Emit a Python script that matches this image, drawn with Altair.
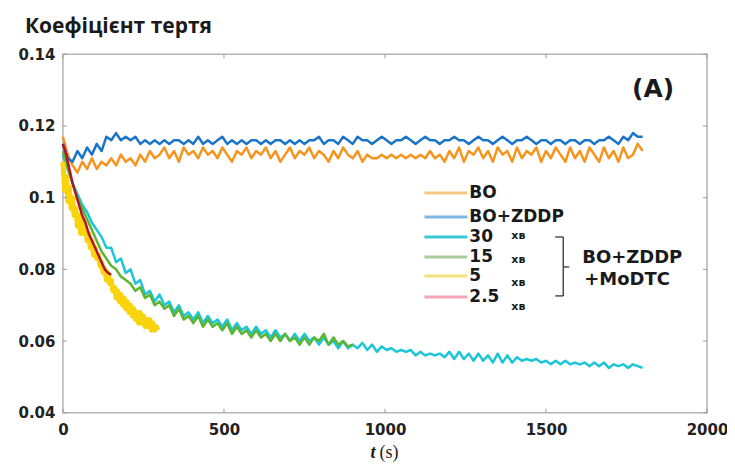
import altair as alt
import pandas as pd

# ---------------- data ----------------
series_names = ["BO", "BO+ZDDP", "30", "15", "5", "2.5"]
line_colors = ["#f7941d", "#1a75c8", "#1cc6d8", "#5cb531", "#f9d30b", "#b3122d"]
legend_colors = ["#f2c983", "#7cb8e6", "#39c9d6", "#a8cc98", "#f3e27a", "#f4a6b8"]
line_widths = [2.5, 2.5, 2.5, 2.5, 5, 2.5]

x_ticks = [0, 500, 1000, 1500, 2000]
y_ticks = [0.04, 0.06, 0.08, 0.10, 0.12, 0.14]

t_bo = list(range(0, 1801, 15))
cof_bo = [0.117, 0.112, 0.109, 0.107, 0.110, 0.108, 0.111, 0.108, 0.110, 0.109,
          0.111, 0.109, 0.112, 0.110, 0.111, 0.109, 0.112, 0.110, 0.113, 0.111,
          0.112, 0.114, 0.111, 0.113, 0.110, 0.114, 0.112, 0.113, 0.111, 0.114,
          0.112, 0.113, 0.111, 0.114, 0.112, 0.110, 0.113, 0.112, 0.114, 0.111,
          0.113, 0.112, 0.114, 0.111, 0.113, 0.110, 0.112, 0.114, 0.111, 0.113,
          0.112, 0.114, 0.111, 0.113, 0.112, 0.110, 0.113, 0.111, 0.114, 0.112,
          0.111, 0.113, 0.110, 0.112, 0.111, 0.111, 0.112, 0.111, 0.112, 0.111,
          0.112, 0.111, 0.112, 0.111, 0.112, 0.111, 0.113, 0.111, 0.112, 0.110,
          0.113, 0.111, 0.114, 0.110, 0.113, 0.112, 0.114, 0.111, 0.113, 0.110,
          0.114, 0.112, 0.113, 0.110, 0.114, 0.111, 0.113, 0.112, 0.114, 0.110,
          0.113, 0.111, 0.114, 0.112, 0.110, 0.114, 0.111, 0.113, 0.110, 0.114,
          0.112, 0.110, 0.114, 0.111, 0.113, 0.110, 0.114, 0.111, 0.112, 0.115,
          0.113]

t_zddp = list(range(0, 1801, 15))
cof_zddp = [0.115, 0.111, 0.110, 0.113, 0.111, 0.114, 0.112, 0.115, 0.113, 0.117,
            0.116, 0.118, 0.116, 0.117, 0.116, 0.117, 0.115, 0.116, 0.115, 0.116,
            0.115, 0.116, 0.115, 0.116, 0.116, 0.115, 0.116, 0.115, 0.117, 0.115,
            0.116, 0.115, 0.116, 0.117, 0.115, 0.116, 0.115, 0.116, 0.115, 0.116,
            0.116, 0.115, 0.116, 0.115, 0.116, 0.116, 0.115, 0.116, 0.115, 0.116,
            0.115, 0.116, 0.116, 0.117, 0.115, 0.116, 0.116, 0.115, 0.117, 0.116,
            0.115, 0.117, 0.116, 0.116, 0.115, 0.116, 0.117, 0.116, 0.115, 0.116,
            0.116, 0.117, 0.116, 0.115, 0.116, 0.117, 0.116, 0.116, 0.115, 0.116,
            0.116, 0.117, 0.116, 0.116, 0.115, 0.116, 0.117, 0.116, 0.116, 0.115,
            0.116, 0.117, 0.116, 0.115, 0.116, 0.116, 0.117, 0.116, 0.115, 0.116,
            0.116, 0.115, 0.116, 0.116, 0.115, 0.116, 0.116, 0.115, 0.116, 0.116,
            0.115, 0.116, 0.116, 0.117, 0.116, 0.115, 0.117, 0.116, 0.118, 0.117,
            0.117]

t_30 = list(range(0, 1801, 15))
cof_30 = [0.112, 0.108, 0.104, 0.101, 0.098, 0.096, 0.093, 0.091, 0.089, 0.086,
          0.086, 0.082, 0.083, 0.079, 0.080, 0.076, 0.077, 0.073, 0.074, 0.071,
          0.073, 0.070, 0.071, 0.068, 0.070, 0.067, 0.068, 0.066, 0.068, 0.065,
          0.067, 0.065, 0.066, 0.064, 0.066, 0.063, 0.065, 0.063, 0.064, 0.062,
          0.064, 0.062, 0.063, 0.061, 0.063, 0.061, 0.062, 0.060, 0.062, 0.060,
          0.062, 0.060, 0.061, 0.059, 0.061, 0.059, 0.060, 0.058, 0.060, 0.058,
          0.059, 0.058, 0.0595, 0.0575, 0.059, 0.057, 0.0585, 0.0575, 0.058, 0.057,
          0.0575, 0.057, 0.0575, 0.056, 0.057, 0.056, 0.0565, 0.056, 0.0565, 0.0555,
          0.057, 0.055, 0.057, 0.055, 0.0565, 0.0545, 0.0565, 0.0545, 0.056, 0.054,
          0.0565, 0.054, 0.056, 0.054, 0.0555, 0.0545, 0.055, 0.0545, 0.055, 0.054,
          0.0545, 0.0535, 0.0545, 0.0535, 0.0545, 0.0535, 0.054, 0.0535, 0.054, 0.053,
          0.054, 0.053, 0.054, 0.0525, 0.0535, 0.053, 0.0535, 0.0525, 0.0535, 0.053,
          0.0525]

t_15 = list(range(0, 901, 15))
cof_15 = [0.113, 0.108, 0.104, 0.100, 0.097, 0.094, 0.091, 0.088, 0.085, 0.083,
          0.081, 0.080, 0.078, 0.077, 0.076, 0.074, 0.075, 0.072, 0.073, 0.070,
          0.071, 0.069, 0.070, 0.067, 0.069, 0.066, 0.067, 0.065, 0.067, 0.064,
          0.066, 0.064, 0.065, 0.063, 0.065, 0.062, 0.064, 0.062, 0.063, 0.061,
          0.063, 0.061, 0.062, 0.060, 0.062, 0.060, 0.062, 0.060, 0.061, 0.059,
          0.061, 0.059, 0.061, 0.060, 0.062, 0.059, 0.061, 0.059, 0.060, 0.0585,
          0.059]

t_5 = list(range(0, 296, 5))
cof_5 = [0.110, 0.102, 0.106, 0.099, 0.103, 0.097, 0.100, 0.095, 0.097, 0.092,
         0.095, 0.090, 0.094, 0.090, 0.092, 0.088, 0.090, 0.086, 0.088, 0.084,
         0.086, 0.083, 0.084, 0.081, 0.082, 0.079, 0.080, 0.077, 0.079, 0.076,
         0.077, 0.074, 0.075, 0.072, 0.074, 0.071, 0.073, 0.070, 0.072, 0.069,
         0.071, 0.068, 0.070, 0.067, 0.069, 0.066, 0.068, 0.065, 0.068, 0.065,
         0.067, 0.064, 0.066, 0.064, 0.066, 0.063, 0.065, 0.063, 0.064, 0.063]

t_25 = list(range(0, 151, 10))
cof_25 = [0.115, 0.112, 0.108, 0.104, 0.101, 0.098, 0.095, 0.093, 0.090, 0.088,
          0.086, 0.084, 0.082, 0.080, 0.079, 0.0785]

# ---------------- table ----------------
all_t = [t_bo, t_zddp, t_30, t_15, t_5, t_25]
all_c = [cof_bo, cof_zddp, cof_30, cof_15, cof_5, cof_25]
rows = []
for name, ts, cs in zip(series_names, all_t, all_c):
    for t, c in zip(ts, cs):
        rows.append({"t": t, "cof": c, "series": name})
df = pd.DataFrame(rows)

W, H = 645, 359
LABEL_FONT = "DejaVu Sans"

X = alt.X("t:Q", scale=alt.Scale(domain=[0, 2000], nice=False, zero=False),
          axis=alt.Axis(values=x_ticks, format="d", title=None, ticks=False, domain=False,
                        grid=False, labelFont=LABEL_FONT, labelFontSize=15,
                        labelFontWeight="bold", labelColor="#222222", labelPadding=10,
                        labelFlush=False))
Y = alt.Y("cof:Q", scale=alt.Scale(domain=[0.04, 0.14], nice=False, zero=False),
          axis=alt.Axis(values=y_ticks, format="~g", title=None, ticks=False, domain=False,
                        grid=False, labelFont=LABEL_FONT, labelFontSize=15,
                        labelFontWeight="bold", labelColor="#222222", labelPadding=8))

layers = []
for name, col, sw in zip(series_names, line_colors, line_widths):
    layers.append(
        alt.Chart(df).transform_filter(alt.datum.series == name)
        .mark_line(color=col, strokeWidth=sw, strokeJoin="round")
        .encode(x=X, y=Y, order="t:Q")
    )

# inward ticks on all four sides
xt = pd.DataFrame({"t": x_ticks})
yt = pd.DataFrame({"cof": y_ticks})
tick_color = "#9a9a9a"
layers.append(alt.Chart(xt).mark_rule(color=tick_color, strokeWidth=1)
              .encode(x=X, y=alt.value(H), y2=alt.value(H - 4)))
layers.append(alt.Chart(xt).mark_rule(color=tick_color, strokeWidth=1)
              .encode(x=X, y=alt.value(0), y2=alt.value(4)))
layers.append(alt.Chart(yt).mark_rule(color=tick_color, strokeWidth=1)
              .encode(y=Y, x=alt.value(0), x2=alt.value(4)))
layers.append(alt.Chart(yt).mark_rule(color=tick_color, strokeWidth=1)
              .encode(y=Y, x=alt.value(W), x2=alt.value(W - 4)))

dummy = pd.DataFrame({"a": [0]})

def txt(s, x, y, size, weight="bold", font=LABEL_FONT, align="left", baseline="middle",
        style="normal", color="#1a1a1a"):
    return (alt.Chart(dummy)
            .mark_text(text=s, font=font, fontSize=size, fontWeight=weight, align=align,
                       baseline=baseline, fontStyle=style, color=color)
            .encode(x=alt.value(x), y=alt.value(y)))

def seg(x1, y1, x2, y2, color, width):
    return (alt.Chart(dummy).mark_rule(color=color, strokeWidth=width)
            .encode(x=alt.value(x1), x2=alt.value(x2), y=alt.value(y1), y2=alt.value(y2)))

# legend
legend_rows = [139, 163, 183, 203, 222, 243]
min_rows = [182, 206, 229, 253]
for i, (name, col) in enumerate(zip(series_names, legend_colors)):
    yy = legend_rows[i]
    layers.append(seg(362, yy, 405, yy, col, 3))
    layers.append(txt(name, 407, yy, 17))
for yy in min_rows:
    layers.append(txt("хв", 449, yy, 11))

# bracket
bc = "#333333"
layers.append(seg(493, 183, 501, 183, bc, 1.3))
layers.append(seg(501, 183, 501, 242, bc, 1.3))
layers.append(seg(493, 242, 501, 242, bc, 1.3))
layers.append(seg(501, 213, 507, 213, bc, 1.3))
layers.append(txt("BO+ZDDP", 520, 204, 18))
layers.append(txt("+MoDTC", 522, 226, 18))

# panel label and titles
layers.append(txt("(A)", 591, 35, 25, align="center"))
layers.append(txt("Коефіцієнт тертя", -38, -21, 21, font="Open Sans", baseline="alphabetic"))
layers.append(txt("t", 313, 399, 18, font="Liberation Serif", style="italic", align="right"))
layers.append(txt("(s)", 317, 399, 18, weight="normal", font="Liberation Serif"))

chart = (alt.layer(*layers)
         .properties(width=W, height=H, autosize="none",
                     padding={"left": 55, "top": 46, "right": 20, "bottom": 52})
         .configure_view(stroke="#b4b4b4", strokeWidth=1.5))

chart.save("out.html", embed_options={"renderer": "svg", "actions": False})
